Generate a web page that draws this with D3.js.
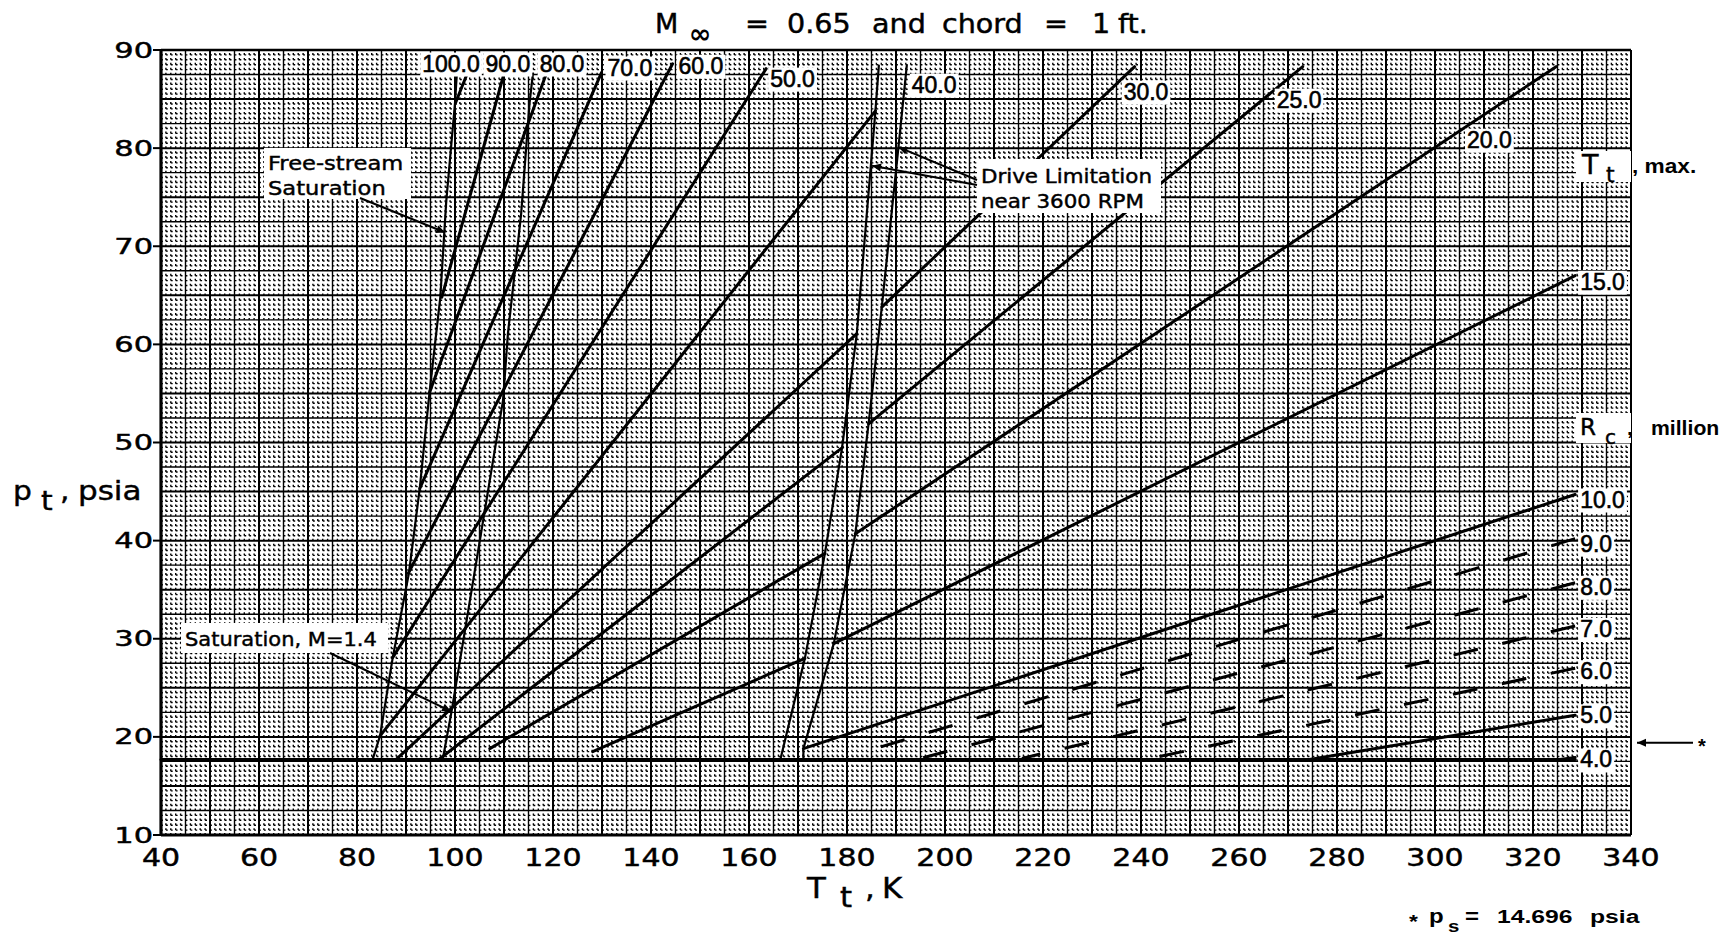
<!DOCTYPE html>
<html>
<head>
<meta charset="utf-8">
<script src="https://cdn.jsdelivr.net/npm/d3@7"></script>
<style>
  body { margin: 0; background: #fff; }
  svg text { fill: #000; }
</style>
</head>
<body>
<svg id="chart" width="1723" height="940"></svg>
<script>
// ---- axis ticks ----
const tTicks = [40, 60, 80, 100, 120, 140, 160, 180, 200, 220, 240, 260, 280, 300, 320, 340];
const pTicks = [10, 20, 30, 40, 50, 60, 70, 80, 90];

// ---- constant chord Reynolds number lines, [T_t (K), p_t (psia)] ----
const rc100 = [[100.1, 84.6], [102.5, 87.6]];
const rc90 = [[97.3, 64.8], [109.9, 87.4]];
const rc80 = [[94.8, 55.1], [118.5, 87.4]];
const rc70 = [[92.8, 45.3], [129.9, 87.7]];
const rc60 = [[90.5, 36.7], [144.4, 88.6]];
const rc50 = [[87.3, 28.1], [163.5, 88.1]];
const rc40 = [[84.7, 20.1], [185.8, 83.8]];
const rc30Low = [[88.0, 17.7], [182.0, 61.1]];
const rc30High = [[187.1, 63.8], [238.7, 88.3]];
const rc25Low = [[96.7, 17.7], [179.1, 49.5]];
const rc25High = [[184.4, 51.9], [273.0, 88.3]];
const rc20Low = [[107.1, 18.8], [175.5, 38.7]];
const rc20High = [[181.7, 40.7], [324.7, 88.3]];
const rc15Low = [[128.1, 18.5], [171.4, 28.0]];
const rc15High = [[177.3, 29.5], [328.6, 67.0]];
const rc10 = [[171.1, 18.8], [328.6, 44.7]];
const rc9 = [[183.0, 18.4], [328.6, 40.2]];
const rc8 = [[195.0, 17.8], [328.6, 35.7]];
const rc7 = [[215.7, 17.8], [328.6, 31.3]];
const rc6 = [[241.0, 17.7], [328.6, 27.0]];
const rc5 = [[274.4, 17.7], [328.6, 22.2]];
const rc4 = [[325.5, 17.7], [328.6, 17.9]];

// ---- operating boundaries ----
const minPressure = [[40, 17.7], [328.6, 17.7]];
const freeStreamSat = [[83.2, 17.7], [84.7, 20.1], [87.3, 28.1], [90.6, 36.7], [92.8, 45.3],
  [94.8, 55.1], [97.0, 64.8], [98.2, 74.5], [100.0, 84.6], [100.4, 87.8]];
const machSat = [[97.5, 17.7], [99.3, 22.6], [109.8, 54.3], [110.8, 61.1], [113.5, 73.3],
  [115.2, 84.5], [115.9, 87.6]];
const driveLimitA = [[166.4, 17.7], [171.4, 28.0], [175.5, 38.7], [179.0, 49.5], [182.0, 61.1],
  [185.8, 83.8], [186.5, 88.4]];
const driveLimitB = [[171.1, 17.7], [171.1, 18.8], [177.3, 29.5], [181.7, 40.7], [184.4, 51.9],
  [187.1, 63.8], [190.5, 80.1], [192.2, 88.4]];

// points the annotation arrows land on
const fssMark = [98.0, 71.4];
const machMark = [99.2, 22.6];
const driveMarkA = [185.1, 78.2];
const driveMarkB = [190.5, 80.1];
const ambientMark = [340, 19.4];

// ---- series table ----
const series = [
  { name: "100.0", segs: [rc100] },
  { name: "90.0", segs: [rc90] },
  { name: "80.0", segs: [rc80] },
  { name: "70.0", segs: [rc70] },
  { name: "60.0", segs: [rc60] },
  { name: "50.0", segs: [rc50] },
  { name: "40.0", segs: [rc40] },
  { name: "30.0", segs: [rc30Low, rc30High] },
  { name: "25.0", segs: [rc25Low, rc25High] },
  { name: "20.0", segs: [rc20Low, rc20High] },
  { name: "15.0", segs: [rc15Low, rc15High] },
  { name: "10.0", segs: [rc10] },
  { name: "9.0", segs: [rc9], dashed: true },
  { name: "8.0", segs: [rc8], dashed: true },
  { name: "7.0", segs: [rc7], dashed: true },
  { name: "6.0", segs: [rc6], dashed: true },
  { name: "5.0", segs: [rc5] },
  { name: "4.0", segs: [rc4] }
];

// label placement, in pixels from the end of the last segment
const labelOffset = {
  "100.0": [-45, -2], "90.0": [-18, -4], "80.0": [-6, -4], "70.0": [6, 3],
  "60.0": [6, 10], "50.0": [4, 18], "30.0": [-11, 33], "25.0": [-26, 41],
  "20.0": [-89, 81], "15.0": [5, 14], "10.0": [5, 13], "9.0": [5, 13], "8.0": [5, 12],
  "7.0": [5, 11], "6.0": [5, 11], "5.0": [5, 8], "4.0": [5, 10]
};

const SANS = "'Liberation Sans', Arial, sans-serif";
const WIDE = "'DejaVu Sans', sans-serif";

const svg = d3.select("#chart");
const x = d3.scaleLinear().domain([40, 340]).range([161, 1631]);
const y = d3.scaleLinear().domain([10, 90]).range([835, 50]);
const line = d3.line().x(d => x(d[0])).y(d => y(d[1]));
const isMult = (v, s) => Math.abs(v / s - Math.round(v / s)) < 1e-6;

// ---- graph-paper grid ----
const grid = svg.append("g");
const dxMinor = x(41) - x(40);
const dyMinor = y(10) - y(10.5);
grid.selectAll(".vmin").data(d3.range(40, 340.001, 1).filter(t => !isMult(t, 5))).join("line")
  .attr("x1", d => x(d)).attr("x2", d => x(d)).attr("y1", y(10)).attr("y2", y(90))
  .attr("stroke", "#000").attr("stroke-width", 1.4)
  .attr("stroke-dasharray", `1.9,${(dyMinor - 1.9).toFixed(3)}`);
grid.selectAll(".hmin").data(d3.range(10, 90.001, 0.5).filter(p => !isMult(p, 2.5))).join("line")
  .attr("x1", x(40)).attr("x2", x(340)).attr("y1", d => y(d)).attr("y2", d => y(d))
  .attr("stroke", "#000").attr("stroke-width", 1.4)
  .attr("stroke-dasharray", `1.9,${(dxMinor - 1.9).toFixed(3)}`);
grid.selectAll(".vmaj").data(d3.range(40, 340.001, 5)).join("line")
  .attr("x1", d => x(d)).attr("x2", d => x(d)).attr("y1", y(10)).attr("y2", y(90))
  .attr("stroke", "#000").attr("stroke-width", d => isMult(d, 10) ? 2 : 1.4);
grid.selectAll(".hmaj").data(d3.range(10, 90.001, 2.5)).join("line")
  .attr("x1", x(40)).attr("x2", x(340)).attr("y1", d => y(d)).attr("y2", d => y(d))
  .attr("stroke", "#000").attr("stroke-width", d => isMult(d, 5) ? 2 : 1.4);

// ---- boundaries ----
const curves = svg.append("g").attr("fill", "none").attr("stroke", "#000")
  .attr("stroke-linejoin", "round").attr("stroke-linecap", "round");
curves.append("path").attr("d", line(minPressure)).attr("stroke-width", 3);
[freeStreamSat, machSat, driveLimitA, driveLimitB].forEach(c =>
  curves.append("path").attr("d", line(c)).attr("stroke-width", 2.2));

// ---- Reynolds number lines ----
series.forEach(s => {
  s.segs.forEach(seg => {
    const pts = s.dashed ? seg.slice().reverse() : seg;
    curves.append("path").attr("d", line(pts)).attr("stroke-width", 3)
      .attr("stroke-linecap", s.dashed ? "butt" : "round")
      .attr("stroke-dasharray", s.dashed ? "25,25" : null);
  });
});

// ---- frame ----
svg.append("line").attr("x1", x(40)).attr("x2", x(40)).attr("y1", y(10)).attr("y2", y(90))
  .attr("stroke", "#000").attr("stroke-width", 3.2);
svg.append("line").attr("x1", x(40)).attr("x2", x(340)).attr("y1", y(10)).attr("y2", y(10))
  .attr("stroke", "#000").attr("stroke-width", 3.2);
svg.append("line").attr("x1", x(40)).attr("x2", x(340)).attr("y1", y(90)).attr("y2", y(90))
  .attr("stroke", "#000").attr("stroke-width", 2.6);

// ---- helpers ----
function wide(g, str, px, py, size, sx, anchor, weight, family) {
  return g.append("text")
    .attr("transform", `translate(${px},${py}) scale(${sx},1)`)
    .attr("text-anchor", anchor || "start")
    .style("font-family", family || WIDE)
    .style("font-size", size + "px")
    .style("font-weight", weight || "normal")
    .attr("stroke", "#000").attr("stroke-width", weight === "bold" ? 0 : 0.45)
    .text(str);
}
function whiteBox(parent, x0, y0, w, h) {
  return parent.append("rect").attr("x", x0).attr("y", y0).attr("width", w).attr("height", h)
    .attr("fill", "#fff");
}

// ---- axis tick labels ----
const axes = svg.append("g");
axes.selectAll(".ytk").data(pTicks).join("line")
  .attr("x1", x(40) - 8).attr("x2", x(40)).attr("y1", d => y(d)).attr("y2", d => y(d))
  .attr("stroke", "#000").attr("stroke-width", 2);
pTicks.forEach(p => wide(axes, String(p), 153, y(p) + 7.5, 21, 1.45, "end"));
tTicks.forEach(t => wide(axes, String(t), x(t), 866, 24, 1.25, "middle"));

// axis titles
const at = svg.append("g");
wide(at, "p", 13, 500, 27, 1.1);
wide(at, "t", 41, 510, 27, 1.1);
wide(at, ",", 60, 500, 27, 1.1);
wide(at, "psia", 78, 500, 27, 1.15);
wide(at, "T", 807, 898, 28, 1.1);
wide(at, "t", 840, 907, 28, 1.1);
wide(at, ",", 865, 898, 28, 1.1);
wide(at, "K", 882, 898, 28, 1.1);

// title
const tt = svg.append("g");
wide(tt, "M", 655, 33, 27, 1.0);
wide(tt, "\u221E", 689, 43, 27, 1.0, "start", "bold");
[["=", 745], ["0.65", 787], ["and", 872], ["chord", 942], ["=", 1044], ["1", 1092], ["ft.", 1118]]
  .forEach(([s, px]) => wide(tt, s, px, 33, 26, 1.1));

// ---- Reynolds number labels ----
const labs = svg.append("g");
series.forEach(s => {
  const seg = s.segs[s.segs.length - 1];
  const end = seg[seg.length - 1];
  let off = labelOffset[s.name];
  let ex = x(end[0]), ey = y(end[1]);
  if (s.name === "40.0") {
    const top = driveLimitB[driveLimitB.length - 1];
    ex = x(top[0]); ey = y(top[1]); off = [5, 27];
  }
  const g = labs.append("g");
  const t = g.append("text").attr("x", ex + off[0]).attr("y", ey + off[1])
    .style("font-family", SANS).style("font-size", "23px")
    .attr("stroke", "#000").attr("stroke-width", 0.6).text(s.name);
  const b = t.node().getBBox();
  g.insert("rect", "text").attr("x", b.x - 2).attr("y", b.y + 2).attr("width", b.width + 4)
    .attr("height", b.height - 2).attr("fill", "#fff");
});

// right-edge legend titles
const side = svg.append("g");
whiteBox(side, 1576, 151, x(340) - 1576, 31);
wide(side, "T", 1582, 174, 27, 1.0);
wide(side, "t", 1606, 182, 22, 1.0);
wide(side, ", max.", 1632, 173, 21, 1.08, "start", "bold", SANS);
whiteBox(side, 1576, 413, x(340) - 1576, 30);
wide(side, "R", 1580, 435, 23, 1.0);
wide(side, "c", 1605, 444, 20, 1.0);
wide(side, ",", 1627, 435, 21, 1.0, "start", "bold", SANS);
wide(side, "million", 1651, 435, 20, 1.06, "start", "bold", SANS);

// ambient pressure marker
svg.append("defs").append("marker").attr("id", "ah").attr("viewBox", "0 0 10 10")
  .attr("refX", 10).attr("refY", 5).attr("markerWidth", 13).attr("markerHeight", 9)
  .attr("markerUnits", "userSpaceOnUse").attr("orient", "auto")
  .append("path").attr("d", "M0,0.5 L10,5 L0,9.5 Z").attr("fill", "#000");
svg.append("line").attr("x1", x(ambientMark[0]) + 62).attr("x2", x(ambientMark[0]) + 6)
  .attr("y1", y(ambientMark[1])).attr("y2", y(ambientMark[1]))
  .attr("stroke", "#000").attr("stroke-width", 2).attr("marker-end", "url(#ah)");
wide(svg, "*", x(ambientMark[0]) + 67, y(ambientMark[1]) + 10, 20, 1.0, "start", "bold", SANS);

// footnote
const fn = svg.append("g");
wide(fn, "*", 1409, 928, 19, 1.2, "start", "bold", SANS);
wide(fn, "p", 1429, 923, 20, 1.2, "start", "bold", SANS);
wide(fn, "s", 1448, 932, 17, 1.2, "start", "bold", SANS);
wide(fn, "=", 1465, 923, 20, 1.2, "start", "bold", SANS);
wide(fn, "14.696", 1497, 923, 19, 1.3, "start", "bold", SANS);
wide(fn, "psia", 1590, 923, 19, 1.3, "start", "bold", SANS);

// ---- annotations ----
const ann = svg.append("g");
whiteBox(ann, 264, 148, 147, 51);
wide(ann, "Free-stream", 268, 170, 20, 1.13);
wide(ann, "Saturation", 268, 195, 20, 1.13);
ann.append("line").attr("x1", 360).attr("y1", 198).attr("x2", x(fssMark[0])).attr("y2", y(fssMark[1]))
  .attr("stroke", "#000").attr("stroke-width", 2).attr("marker-end", "url(#ah)");

whiteBox(ann, 181, 623, 207, 30);
wide(ann, "Saturation,  M=1.4", 185, 646, 20, 1.05);
ann.append("line").attr("x1", 330).attr("y1", 653).attr("x2", x(machMark[0])).attr("y2", y(machMark[1]))
  .attr("stroke", "#000").attr("stroke-width", 2).attr("marker-end", "url(#ah)");

whiteBox(ann, 977, 159, 184, 54);
wide(ann, "Drive Limitation", 981, 183, 20, 1.07);
wide(ann, "near 3600 RPM", 981, 208, 20, 1.07);
ann.append("line").attr("x1", 977).attr("y1", 180).attr("x2", x(driveMarkB[0])).attr("y2", y(driveMarkB[1]))
  .attr("stroke", "#000").attr("stroke-width", 2).attr("marker-end", "url(#ah)");
ann.append("line").attr("x1", 977).attr("y1", 185).attr("x2", x(driveMarkA[0])).attr("y2", y(driveMarkA[1]))
  .attr("stroke", "#000").attr("stroke-width", 2).attr("marker-end", "url(#ah)");
</script>
</body>
</html>
